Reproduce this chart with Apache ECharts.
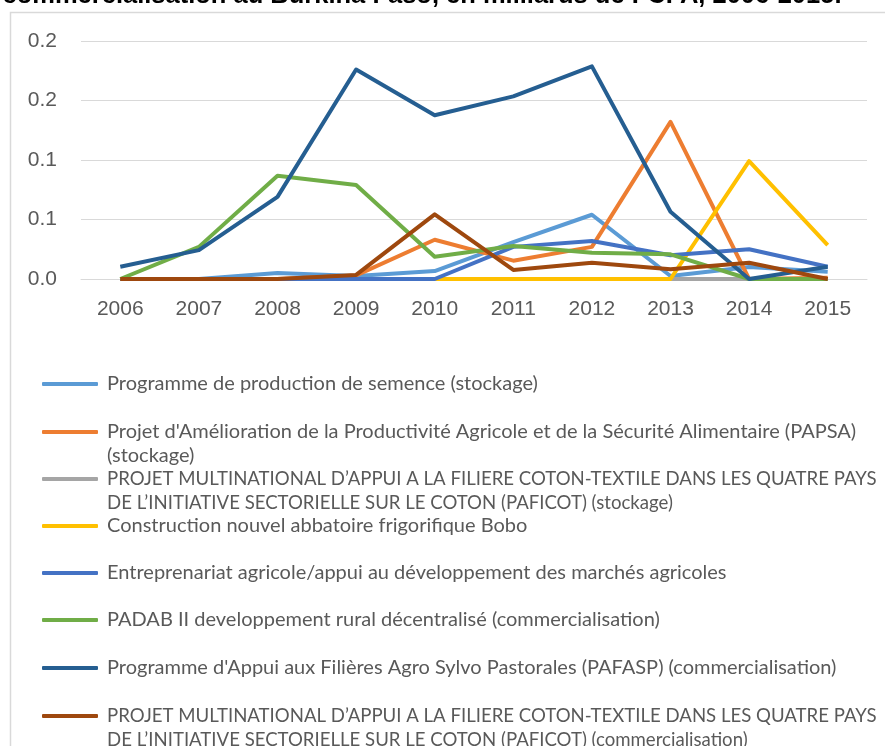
<!DOCTYPE html>
<html>
  <head>
    <meta charset="utf-8" />
    <title>Financements stockage et commercialisation</title>
    <script src="https://cdn.jsdelivr.net/npm/echarts@6/dist/echarts.min.js"></script>
  </head>

  <body style="margin: 0">
    <div id="main" style="width: 885px; height: 746px"></div>

    <script>
      var years = ["2006", "2007", "2008", "2009", "2010", "2011", "2012", "2013", "2014", "2015"];
      // libellés de l'axe Y tels qu'affichés (arrondis à une décimale)
      var yTickLabels = ["0.0", "0.1", "0.1", "0.2", "0.2"];

      var names = [
        "Programme de production de semence (stockage)",
        "Projet d'Amélioration de la Productivité Agricole et de la Sécurité Alimentaire (PAPSA)\n(stockage)",
        "PROJET MULTINATIONAL D’APPUI A LA FILIERE COTON-TEXTILE DANS LES QUATRE PAYS\nDE L’INITIATIVE SECTORIELLE SUR LE COTON (PAFICOT) (stockage)",
        "Construction nouvel abbatoire frigorifique Bobo",
        "Entreprenariat agricole/appui au développement des marchés agricoles",
        "PADAB II developpement rural décentralisé (commercialisation)",
        "Programme d'Appui aux Filières Agro Sylvo Pastorales (PAFASP) (commercialisation)",
        "PROJET MULTINATIONAL D’APPUI A LA FILIERE COTON-TEXTILE DANS LES QUATRE PAYS\nDE L’INITIATIVE SECTORIELLE SUR LE COTON (PAFICOT) (commercialisation)",
      ];
      var colors = ["#5B9BD5", "#ED7D31", "#A5A5A5", "#FFC000", "#4472C4", "#70AD47", "#255E91", "#9E480E"];

      var semence = [0, 0, 0.005, 0.0025, 0.0067, 0.031, 0.054, 0.0025, 0.01, 0.006];
      var papsa = [0, 0, 0, 0.003, 0.033, 0.0154, 0.027, 0.132, 0, 0.001];
      var paficotStockage = [0, 0, 0, 0, 0, 0, 0, 0, 0, 0];
      var abattoir = [0, 0, 0, 0, 0, 0, 0, 0, 0.099, 0.0285];
      var entreprenariat = [0, 0, 0, 0, 0, 0.027, 0.032, 0.02, 0.025, 0.0103];
      var padab = [0, 0.027, 0.0867, 0.079, 0.0187, 0.0277, 0.022, 0.0207, 0, 0];
      var pafasp = [0.0103, 0.0243, 0.069, 0.176, 0.1376, 0.1535, 0.1787, 0.0565, 0, 0.0103];
      var paficotComm = [0, 0, 0, 0.0034, 0.0543, 0.0076, 0.0137, 0.0081, 0.0137, 0];

      var seriesData = [semence, papsa, paficotStockage, abattoir, entreprenariat, padab, pafasp, paficotComm];

      // position verticale (centre du trait) de chaque entrée de légende
      var legendCenters = [384, 432, 479, 526, 573, 620, 668, 716];
      var lh = 24;

      var font = "Liberation Sans";
      var legendFont = "Lato";

      var option = {
        animation: false,
        backgroundColor: "#ffffff",
        color: colors,
        graphic: [
          {
            type: "rect",
            shape: { x: 10.5, y: 12.5, width: 900, height: 800 },
            style: { fill: "none", stroke: "#d9d9d9", lineWidth: 1.5 },
            silent: true,
          },
          {
            type: "text",
            x: 422,
            y: -4,
            style: {
              text: "commercialisation au Burkina Faso, en milliards de FCFA, 2006-2015.",
              fontFamily: font,
              fontWeight: "bold",
              fontSize: 25.5,
              fill: "#000000",
              textAlign: "center",
              textVerticalAlign: "middle",
            },
            silent: true,
          },
        ],
        grid: { left: 81, right: 18, top: 41, height: 238 },
        xAxis: {
          type: "category",
          data: years,
          boundaryGap: true,
          axisLine: { lineStyle: { color: "#d9d9d9", width: 1 } },
          axisTick: { show: false },
          axisLabel: { margin: 20, fontSize: 21, color: "#595959", fontFamily: font },
        },
        yAxis: {
          type: "value",
          min: 0,
          max: 0.2,
          interval: 0.05,
          axisLine: { show: false },
          axisTick: { show: false },
          splitLine: { lineStyle: { color: "#d9d9d9", width: 1 } },
          axisLabel: {
            margin: 24,
            fontSize: 21,
            color: "#595959",
            fontFamily: font,
            formatter: function (v) {
              return yTickLabels[Math.round(v / 0.05)];
            },
          },
        },
        legend: names.map(function (n, i) {
          var multi = n.indexOf("\n") >= 0;
          var upper = n.indexOf("PROJET") === 0;
          var half = multi ? (lh * 3) / 2 : lh / 2;
          return {
            data: [n],
            orient: "vertical",
            left: 42,
            top: legendCenters[i] - half,
            padding: 0,
            itemWidth: 56,
            itemHeight: 4,
            icon: "roundRect",
            selectedMode: false,
            // ligne vide en tête pour aligner le trait sur la première ligne
            formatter: function (name) {
              return name.indexOf("\n") >= 0 ? "\u00a0\n" + name : name;
            },
            textStyle: {
              fontFamily: legendFont,
              fontSize: upper ? 18.6 : 20,
              color: "#595959",
              lineHeight: lh,
              padding: [0, 0, 0, 4],
            },
          };
        }),
        series: names.map(function (n, i) {
          return {
            name: n,
            type: "line",
            data: seriesData[i],
            showSymbol: false,
            symbol: "none",
            lineStyle: { width: 4, color: colors[i], join: "round" },
            itemStyle: { color: colors[i] },
            emphasis: { disabled: true },
          };
        }),
      };

      var myChart = echarts.init(document.getElementById("main"));
      myChart.setOption(option);
    </script>
  </body>
</html>
